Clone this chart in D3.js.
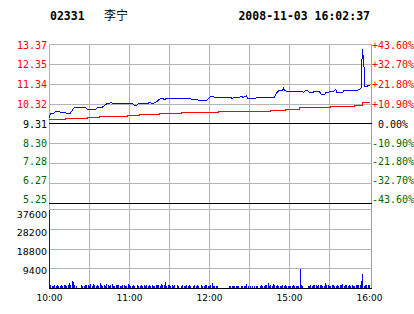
<!DOCTYPE html>
<html><head><meta charset="utf-8">
<script src="https://cdn.jsdelivr.net/npm/d3@7"></script>
<style>body{margin:0;background:#fff}svg{display:block}</style>
</head><body>
<script>
// ---- data ----
const stockCode = "02331", stockName = "李宁", stamp = "2008-11-03 16:02:37";
const prevClose = 9.31;
const priceTicks = [13.37, 12.35, 11.34, 10.32, 9.31, 8.30, 7.28, 6.27, 5.25];
const pctTicks = ["+43.60%", "+32.70%", "+21.80%", "+10.90%", "0.00%", "-10.90%", "-21.80%", "-32.70%", "-43.60%"];
const volTicks = [37600, 28200, 18800, 9400];
const timeMinutes = [0, 60, 120, 180, 240];
const timeLabels = ["10:00", "11:00", "12:00", "15:00", "16:00"];

// minute index since 10:00 (trading minutes) and price
const priceMin = [0,1,3,4,5,8,9,12,13,16,18,19,21,22,27,28,30,34,35,37,40,42,44,47,49,63,64,66,67,74,75,78,80,83,85,87,88,90,100,101,106,107,111,112,118,119,121,124,136,137,138,139,143,144,146,148,149,155,156,159,169,171,172,175,176,177,179,190,191,192,194,195,196,198,199,200,203,204,205,207,208,213,215,216,220,221,230,231,234,235,236,237,238,239,241];
const priceVal = [9.58,9.80,9.80,9.86,9.91,9.91,9.86,9.86,9.83,9.83,10.04,10.12,10.12,10.14,10.14,10.08,10.00,10.00,10.04,10.14,10.14,10.25,10.34,10.37,10.31,10.31,10.25,10.25,10.31,10.31,10.38,10.34,10.39,10.55,10.60,10.51,10.61,10.60,10.60,10.58,10.58,10.55,10.55,10.49,10.49,10.55,10.68,10.66,10.66,10.60,10.60,10.65,10.65,10.68,10.65,10.71,10.61,10.61,10.65,10.63,10.63,10.90,10.97,10.97,11.11,10.99,10.93,10.93,10.90,10.97,10.97,10.93,10.88,10.88,10.97,10.93,10.93,10.81,10.77,10.81,10.91,10.93,11.06,10.88,10.88,10.97,10.97,10.98,11.11,13.11,12.55,11.19,11.19,11.23,11.23];

// average price (step)
const avgMin = [0,12,29,38,59,68,83,99,127,166,177,188,211,229,235,241];
const avgVal = [9.53,9.57,9.63,9.69,9.75,9.78,9.85,9.90,9.95,9.98,10.04,10.14,10.19,10.26,10.43,10.43];

// volume per minute, m0..m240
const volume = [
37000,1200,1100,1000,1200,1100,1300,1000,1100,1200,
1000,1400,1200,1100,1500,2300,1400,3300,2900,1600,
800,0,0,0,1200,1100,1000,1300,1200,1400,
1100,1700,1000,2000,1200,1100,1600,1000,2200,1300,
1000,1200,1100,1700,1300,1000,1200,1900,1100,1000,
1300,1200,1600,1100,1000,1200,1400,1000,1100,1800,
1200,1000,1100,1300,1000,0,1200,1100,1000,1500,
1100,1300,1000,1200,1100,1400,1000,1200,1000,1100,
1600,1200,1500,1000,1700,1300,1200,3000,1100,1400,
1200,1000,1300,1100,1500,0,1200,1000,0,1100,
1200,1000,1100,1300,1000,1200,1100,0,1000,1200,
1100,1400,1000,0,1200,1100,1000,1500,1300,1000,
900,1200,2200,900,1000,900,1100,0,0,0,
0,0,0,0,0,900,1000,900,1100,900,
1000,900,1000,0,900,1100,1000,900,1900,1000,
0,900,1000,0,900,900,1000,0,900,1400,
1100,1000,1300,1200,2500,1100,1300,1000,1900,1200,
1100,1200,1000,1000,1100,1300,1000,1200,1100,1000,
900,1100,1000,1300,1100,1000,1000,1100,9000,1300,
1000,0,0,0,1100,1000,1200,1100,1300,1200,
1500,1000,1300,1200,1600,1100,1000,2200,1300,1200,
1100,1000,1300,1200,1000,1100,1400,1000,1600,1200,
2000,1100,1300,1200,1000,1400,1100,1200,1000,1100,
1300,1200,1300,1400,3500,6800,1100,1200,1600,1300,
1400];

// ---- drawing ----
const W = 414, H = 314;
const svg = d3.select("body").append("svg").attr("width", W).attr("height", H);
const L = 49, R = 371;
const x = d3.scaleLinear([0, 240], [49, 369]);
const y = d3.scaleLinear([5.25, 13.37], [203, 44]);
const yv = d3.scaleLinear([0, 37600], [288, 209]);
const grid = "#b4b4b4";
const red = "#ff0000", green = "#006600";
const yTop = Math.round(y(13.37)), yBot = Math.round(yv(0));

const g = svg.append("g").attr("shape-rendering", "crispEdges");
// vertical gridlines
const vTicks = d3.range(30, 240, 30);
g.selectAll("rect.vg").data(vTicks).join("rect").attr("class", "vg")
  .attr("x", d => Math.round(x(d))).attr("width", 1)
  .attr("y", yTop).attr("height", yBot - yTop + 1).attr("fill", grid);
// frame sides
g.append("rect").attr("x", L).attr("width", 1).attr("y", yTop).attr("height", yBot - yTop + 1).attr("fill", grid);
g.append("rect").attr("x", R).attr("width", 1).attr("y", yTop).attr("height", yBot - yTop + 1).attr("fill", "#a0a0a0");
// price horizontal lines
g.selectAll("rect.hg").data(priceTicks).join("rect").attr("class", "hg")
  .attr("x", L).attr("width", R - L + 1)
  .attr("y", d => Math.round(y(d))).attr("height", 1)
  .attr("fill", d => (d === prevClose || d === 5.25) ? "#000" : grid);
// volume horizontal lines
g.selectAll("rect.vh").data(volTicks.concat([0])).join("rect").attr("class", "vh")
  .attr("x", L).attr("width", R - L + 1)
  .attr("y", d => Math.round(yv(d))).attr("height", 1)
  .attr("fill", d => d === 0 ? "#000" : grid);

// volume bars
g.selectAll("rect.bar").data(volume).join("rect").attr("class", "bar")
  .attr("x", (d, i) => Math.round(x(i)))
  .attr("width", 1)
  .attr("y", d => Math.round(yv(d)))
  .attr("height", d => Math.round(yv(0)) - Math.round(yv(d)))
  .attr("fill", "#0000ff");

// average line
const avgPts = avgMin.map((m, i) => [m, avgVal[i]]);
svg.append("path").datum(avgPts)
  .attr("d", d3.line().x(d => x(d[0])).y(d => Math.round(y(d[1])) + 0.5).curve(d3.curveStepAfter))
  .attr("fill", "none").attr("stroke", red).attr("stroke-width", 1).attr("shape-rendering", "crispEdges");

// price line
const pricePts = priceMin.map((m, i) => [m, priceVal[i]]);
svg.append("path").datum(pricePts)
  .attr("d", d3.line().x(d => x(d[0])).y(d => y(d[1])))
  .attr("fill", "none").attr("stroke", "#0000ff").attr("stroke-width", 1).attr("shape-rendering", "crispEdges");

// left price labels
const mono = "'DejaVu Sans Mono', monospace";
const labShift = d => d < prevClose ? -(prevClose - d) / (prevClose - 5.25) * 5 : 0;
svg.selectAll("text.pl").data(priceTicks).join("text").attr("class", "pl")
  .attr("x", 47).attr("y", d => y(d) + labShift(d) + 4.5)
  .attr("text-anchor", "end").attr("font-family", mono).attr("font-size", 10)
  .attr("fill", d => d > prevClose ? red : d < prevClose ? green : "#000")
  .text(d => d.toFixed(2));
// right pct labels
svg.selectAll("text.rl").data(pctTicks).join("text").attr("class", "rl")
  .attr("x", d => (d[0] === "+" || d[0] === "-") ? 372 : 378)
  .attr("y", (d, i) => y(priceTicks[i]) + labShift(priceTicks[i]) + 4.5)
  .attr("font-family", mono).attr("font-size", 10)
  .attr("fill", d => d[0] === "+" ? red : d[0] === "-" ? green : "#000")
  .text(d => d);
// volume labels
const vLab = d3.scaleLinear([37600, 9400], [214, 270.5]);
svg.selectAll("text.vl").data(volTicks).join("text").attr("class", "vl")
  .attr("x", 47).attr("y", d => vLab(d) + 3.5)
  .attr("text-anchor", "end").attr("font-family", "'DejaVu Sans', sans-serif").attr("font-size", 9.5)
  .attr("fill", "#000").text(d => d);
// time labels
svg.selectAll("text.tl").data(timeMinutes).join("text").attr("class", "tl")
  .attr("x", d => x(d) + 0.5).attr("y", 301)
  .attr("text-anchor", "middle").attr("font-family", "'DejaVu Sans', sans-serif").attr("font-size", 9)
  .attr("fill", "#000").text((d, i) => timeLabels[i]);
// title
svg.append("text").attr("x", 50).attr("y", 20).attr("font-family", mono).attr("font-weight", "bold")
  .attr("font-size", 11.5).text(stockCode);
svg.append("text").attr("x", 104).attr("y", 20).attr("font-family", "'Noto Sans CJK SC', sans-serif")
  .attr("font-size", 12).text(stockName);
svg.append("text").attr("x", 370).attr("y", 20).attr("text-anchor", "end").attr("font-family", mono)
  .attr("font-weight", "bold").attr("font-size", 11.5).text(stamp);
</script>
</body></html>
